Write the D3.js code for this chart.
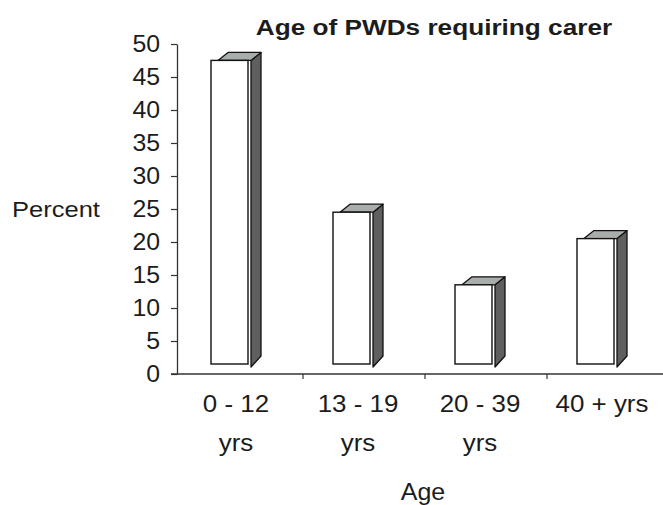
<!DOCTYPE html>
<html>
<head>
<meta charset="utf-8">
<script src="https://cdn.jsdelivr.net/npm/d3@7"></script>
<style>
  html, body { margin: 0; padding: 0; background: #fff; }
  svg { display: block; }
</style>
</head>
<body>
<svg id="chart" width="663" height="505"></svg>
<script>
// Chart data
const categories = ["0 - 12 yrs", "13 - 19 yrs", "20 - 39 yrs", "40 + yrs"];
const categoryLabelLines = [["0 - 12", "yrs"], ["13 - 19", "yrs"], ["20 - 39", "yrs"], ["40 + yrs"]];
const percentValues = [46, 23, 12, 19];
const yTickValues = [0, 5, 10, 15, 20, 25, 30, 35, 40, 45, 50];
const chartTitle = "Age of PWDs requiring carer";
const yAxisTitle = "Percent";
const xAxisTitle = "Age";

const FONT = "'Liberation Sans', Arial, Helvetica, sans-serif";
const INK = "#1c1c1c";

const svg = d3.select("#chart");

const x = d3.scaleBand().domain(categories).range([181, 669]).padding(0);
const y = d3.scaleLinear().domain([0, 50]).range([374, 44]);

// 3-D column geometry
const floorLift = 10;   // front faces stand slightly above the floor line
const barOffset = 30, barWidth = 37, sideGap = 3, depthX = 10, depthY = 8;

// Text drawn with a slight horizontal stretch
function label(parent, txt, cx, baseline, opts) {
  const o = Object.assign({ size: 22, sx: 1.1, anchor: "middle", weight: "normal" }, opts || {});
  parent.append("g")
    .attr("transform", `translate(${cx},${baseline})`)
    .append("text")
    .attr("transform", `scale(${o.sx},1)`)
    .attr("text-anchor", o.anchor)
    .attr("font-family", FONT)
    .attr("font-size", o.size)
    .attr("font-weight", o.weight)
    .attr("fill", INK)
    .text(txt);
}

// Bars
const bars = svg.append("g").attr("class", "bars");
categories.forEach((c, i) => {
  const v = percentValues[i];
  const x0 = x(c) + barOffset;
  const x1 = x0 + barWidth;
  const top = y(v) - floorLift;
  const bottom = y(0) - floorLift;
  const sx = x1 + sideGap;
  const g = bars.append("g");

  g.append("polygon")
    .attr("points", [[sx, top], [sx + depthX, top - depthY], [sx + depthX, bottom - depthY], [sx, bottom + 3]].map(p => p.join(",")).join(" "))
    .attr("fill", "#5e5f5e")
    .attr("stroke", "#111")
    .attr("stroke-width", 1.3)
    .attr("stroke-linejoin", "round");

  g.append("polygon")
    .attr("points", [[x0 + 7, top], [sx, top], [sx + depthX, top - depthY], [x0 + 7 + depthX, top - depthY]].map(p => p.join(",")).join(" "))
    .attr("fill", "#a9aeab")
    .attr("stroke", "#111")
    .attr("stroke-width", 1.3)
    .attr("stroke-linejoin", "round");

  g.append("rect")
    .attr("x", x0)
    .attr("y", top)
    .attr("width", barWidth)
    .attr("height", bottom - top)
    .attr("fill", "#fff")
    .attr("stroke", "#111")
    .attr("stroke-width", 1.4);
});

// Value axis
const yAxis = svg.append("g")
  .attr("transform", "translate(177,0)")
  .call(d3.axisLeft(y).tickValues(yTickValues).tickSize(6).tickSizeOuter(0).tickPadding(11));
yAxis.select(".domain").attr("stroke", "#333").attr("stroke-width", 1.3);
yAxis.selectAll(".tick line").attr("stroke", "#333").attr("stroke-width", 1.2);
yAxis.selectAll(".tick text")
  .attr("font-family", FONT)
  .attr("font-size", 23)
  .attr("fill", INK)
  .attr("x", -17 / 1.08)
  .attr("transform", "scale(1.08,1)");

// Category axis
const xAxis = svg.append("g");
xAxis.append("line")
  .attr("x1", 171).attr("x2", 663)
  .attr("y1", y(0)).attr("y2", y(0))
  .attr("stroke", "#333").attr("stroke-width", 1.5);
xAxis.selectAll("line.cat-tick")
  .data(categories.slice(1))
  .join("line")
  .attr("class", "cat-tick")
  .attr("x1", d => x(d)).attr("x2", d => x(d))
  .attr("y1", y(0)).attr("y2", y(0) + 5)
  .attr("stroke", "#333").attr("stroke-width", 1.2);

categories.forEach((c, i) => {
  const cx = x(c) + x.bandwidth() / 2 - 6;
  categoryLabelLines[i].forEach((line, j) => {
    label(svg, line, cx, 412 + j * 39, { size: 24, sx: 1.08 });
  });
});

// Titles
label(svg, chartTitle, 434, 35, { size: 22, sx: 1.19, weight: "bold" });
label(svg, yAxisTitle, 56, 217, { size: 22, sx: 1.16 });
label(svg, xAxisTitle, 423, 500, { size: 24, sx: 1.04 });
</script>
</body>
</html>
